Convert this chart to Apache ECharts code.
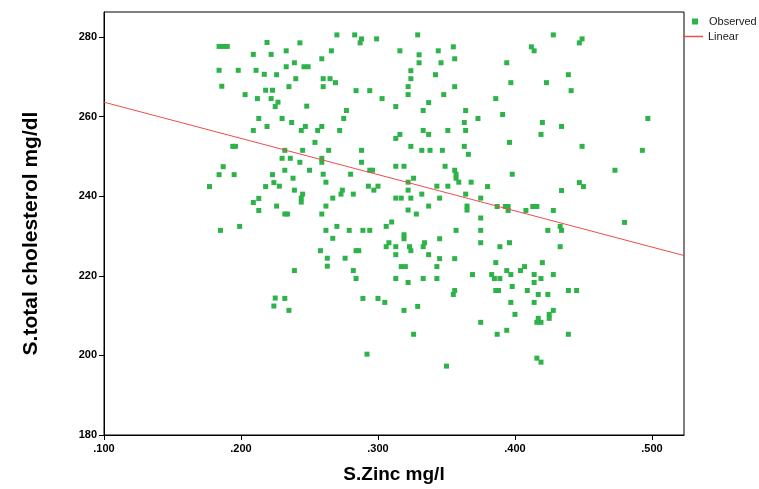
<!DOCTYPE html>
<html>
<head>
<meta charset="utf-8">
<script src="https://cdn.jsdelivr.net/npm/echarts@6/dist/echarts.min.js"></script>
<style>
  html, body { margin: 0; background: #fff; }
  #chart { width: 759px; height: 489px; }
</style>
</head>
<body>
<div id="chart"></div>
<script>
// S.Zinc (mg/l) and S.total cholesterol (mg/dl)
const zinc = [
  .184, .187, .190, .219, .209, .222, .184, .198, .211, .217, .186, .203, .218, .223, .212, .222, .225, .213,
  .219, .209, .194, .196, .187, .184, .195, .223, .177, .218, .224, .209, .213, .213, .185, .199, .225, .224,
  .270, .283, .288, .287, .299, .243, .233, .266, .259, .239, .233, .246, .249, .226, .240, .260, .265, .269,
  .235, .260, .284, .294, .227, .248, .277, .275, .230, .237, .247, .244, .259, .256, .272, .254, .232, .245,
  .264, .288, .230, .236, .259, .259, .243, .288, .232, .250, .280, .260, .294, .296, .238, .262, .228, .239,
  .293, .297, .300, .274, .273, .245, .244, .244, .282, .267, .226, .262, .232, .234, .259,
  .270, .262, .279, .289, .294, .267, .258, .284, .286, .263, .276, .263, .239, .282, .284, .232, .289, .300,
  .235, .292,
  .329, .316, .344, .355, .330, .356, .330, .346, .324, .342, .324, .322, .356, .322, .348, .303, .313, .337,
  .333, .364, .373, .363, .316, .313, .333, .337, .351, .364, .324, .332, .338, .347, .363, .366, .313, .319,
  .349, .356, .357, .357, .359, .326, .322, .322, .343, .351, .368, .332, .364, .313, .317, .324, .345, .375,
  .365, .365, .337, .322, .328, .375, .310,
  .306, .319, .319, .357, .375, .345, .308, .306, .313, .323, .324, .334, .333, .375, .313, .337, .345, .356,
  .317, .320, .343, .369, .313, .333, .343, .322, .356, .355, .305, .329, .319, .375, .326, .350,
  .428, .449, .447, .412, .414, .394, .439, .397, .423, .441, .386, .391, .420, .434, .419, .396, .449, .473,
  .398, .380, .447, .450, .434, .387, .393, .395, .395, .408, .413, .416, .428, .480,
  .424, .433, .434, .389, .396, .433, .386, .420, .383, .385, .389, .394, .397, .404, .407, .414, .419, .428,
  .414, .386, .388, .398, .409, .417, .424, .439, .445, .397, .414, .400, .428, .425, .425, .417, .416, .419,
  .387, .394, .439, .416, .419,
  .497, .493
];
const cholesterol = [
  277.6, 277.6, 277.6, 278.6, 275.6, 275.6, 271.6, 271.6, 271.6, 270.6, 267.6, 265.5, 266.6, 266.6, 264.5, 264.5, 262.5, 259.5,
  257.5, 256.5, 252.5, 252.5, 247.4, 245.4, 245.4, 245.4, 242.4, 242.4, 243.4, 238.4, 239.4, 236.4, 231.4, 232.4, 214.4, 212.4,
  280.5, 280.5, 279.5, 278.5, 279.5, 278.5, 276.5, 276.5, 274.5, 273.5, 272.5, 272.5, 272.5, 270.5, 269.5, 269.5, 269.5, 268.5,
  267.5, 267.5, 266.5, 266.5, 263.6, 262.6, 261.5, 259.5, 259.5, 258.5, 257.5, 256.5, 257.5, 256.5, 256.5, 253.5, 251.5, 251.5,
  251.5, 251.5, 249.5, 249.5, 249.5, 248.5, 248.5, 248.5, 246.5, 246.5, 245.5, 245.5, 246.5, 246.5, 244.5, 243.5, 242.5, 241.5,
  242.5, 241.5, 242.5, 241.5, 240.5, 240.5, 239.5, 238.5, 240.5, 239.5, 237.5, 237.5, 235.5, 235.5, 235.5,
  232.4, 231.4, 231.4, 231.4, 231.4, 229.4, 226.3, 226.3, 226.3, 224.4, 224.4, 222.4, 221.3, 221.3, 219.3, 214.3, 214.3, 214.3,
  211.3, 200.3,
  280.5, 276.5, 276.5, 277.5, 275.5, 274.5, 273.5, 273.5, 271.5, 270.5, 269.5, 267.5, 267.5, 265.5, 265.5, 264.5, 262.5, 263.5,
  261.5, 261.5, 259.5, 258.5, 255.5, 254.5, 256.5, 255.5, 256.5, 256.5, 252.5, 251.5, 251.5, 251.5, 252.5, 250.5, 247.5, 247.5,
  247.5, 246.5, 245.5, 244.5, 243.5, 244.5, 243.5, 241.5, 242.5, 242.5, 243.5, 240.5, 240.5, 239.5, 239.5, 239.5, 239.5, 239.5,
  237.5, 236.5, 237.5, 236.5, 235.5, 234.5, 233.5,
  232.4, 230.3, 229.3, 231.4, 231.4, 229.3, 228.3, 227.3, 227.3, 227.3, 226.3, 228.3, 227.3, 228.3, 225.3, 225.3, 224.3, 224.3,
  222.3, 222.3, 222.3, 220.3, 219.3, 219.3, 219.3, 218.3, 216.3, 215.3, 213.3, 212.3, 211.3, 208.3, 205.3, 197.3,
  280.5, 279.5, 278.5, 277.5, 276.5, 273.5, 270.5, 268.5, 268.5, 266.5, 264.5, 260.5, 258.5, 257.5, 255.5, 253.5, 252.5, 246.5,
  245.5, 242.4, 243.4, 242.4, 241.4, 237.4, 237.4, 237.4, 236.4, 236.4, 237.4, 237.4, 236.4, 233.4,
  231.4, 232.4, 231.4, 227.3, 228.3, 227.3, 223.3, 223.3, 220.3, 219.3, 219.3, 221.3, 220.3, 221.3, 222.3, 220.3, 219.3, 220.3,
  218.3, 216.3, 216.3, 217.3, 216.3, 215.3, 215.3, 216.3, 216.3, 213.3, 213.3, 210.3, 211.3, 210.3, 209.3, 209.3, 208.3, 208.3,
  205.3, 206.3, 205.3, 199.3, 198.3,
  259.5, 251.5
];

// axis ticks
const xTicks = [0.1, 0.2, 0.3, 0.4, 0.5];
const yTicks = [180, 200, 220, 240, 260, 280];

// linear fit (y = a + b * x)
const fitIntercept = 272.7;
const fitSlope = -91;

const xMin = 0.1, xMax = 0.5234;
const yMin = 180, yMax = 286.25;

const points = zinc.map((z, i) => [z, cholesterol[i]]);
const fitLine = [xMin, xMax].map(x => [x, fitIntercept + fitSlope * x]);

const chart = echarts.init(document.getElementById('chart'));
const font = '"Liberation Sans", Arial, sans-serif';
const green = '#2db34a';
const red = '#ee4c4c';

const option = {
  backgroundColor: '#ffffff',
  animation: false,
  textStyle: { fontFamily: font },
  grid: {
    left: 104,
    right: 75,
    top: 12,
    bottom: 52,
    show: true,
    borderColor: '#000',
    borderWidth: 1
  },
  legend: [
    {
      data: ['Observed'],
      left: 692,
      top: 16,
      padding: 0,
      itemWidth: 6,
      itemHeight: 6,
      icon: 'rect',
      textStyle: { fontSize: 11, color: '#1a1a1a', padding: [0, 0, 0, 6] }
    },
    {
      data: [{ name: 'Linear', icon: 'rect', itemStyle: { color: red } }],
      left: 683,
      top: 31,
      padding: 0,
      itemWidth: 20,
      itemHeight: 1.5,
      textStyle: { fontSize: 11, color: '#1a1a1a' }
    }
  ],
  xAxis: {
    type: 'value',
    min: xMin,
    max: xMax,
    name: 'S.Zinc mg/l',
    nameLocation: 'middle',
    nameGap: 30,
    nameTextStyle: { fontSize: 19, fontWeight: 'bold', color: '#000' },
    axisLine: { lineStyle: { color: '#000', width: 1 } },
    axisTick: { length: 5, lineStyle: { color: '#000' }, customValues: xTicks },
    axisLabel: {
      customValues: xTicks,
      fontSize: 11,
      fontWeight: 'bold',
      color: '#000',
      margin: 8,
      formatter: v => '.' + v.toFixed(3).split('.')[1]
    },
    splitLine: { show: false }
  },
  yAxis: {
    type: 'value',
    min: yMin,
    max: yMax,
    name: 'S.total cholesterol mg/dl',
    nameLocation: 'middle',
    nameGap: 62,
    nameTextStyle: { fontSize: 21, fontWeight: 'bold', color: '#000', padding: [0, 20, 0, 0] },
    axisLine: { lineStyle: { color: '#000', width: 1 } },
    axisTick: { length: 5, lineStyle: { color: '#000' }, customValues: yTicks },
    axisLabel: {
      customValues: yTicks,
      fontSize: 11,
      fontWeight: 'bold',
      color: '#000',
      margin: 7
    },
    splitLine: { show: false }
  },
  series: [
    {
      name: 'Observed',
      type: 'scatter',
      data: points,
      symbol: 'rect',
      symbolSize: 5,
      itemStyle: { color: green, opacity: 1 },
      z: 2
    },
    {
      name: 'Linear',
      type: 'line',
      data: fitLine,
      symbol: 'none',
      lineStyle: { color: red, width: 1 },
      itemStyle: { color: red },
      z: 3
    }
  ]
};

chart.setOption(option);
</script>
</body>
</html>
